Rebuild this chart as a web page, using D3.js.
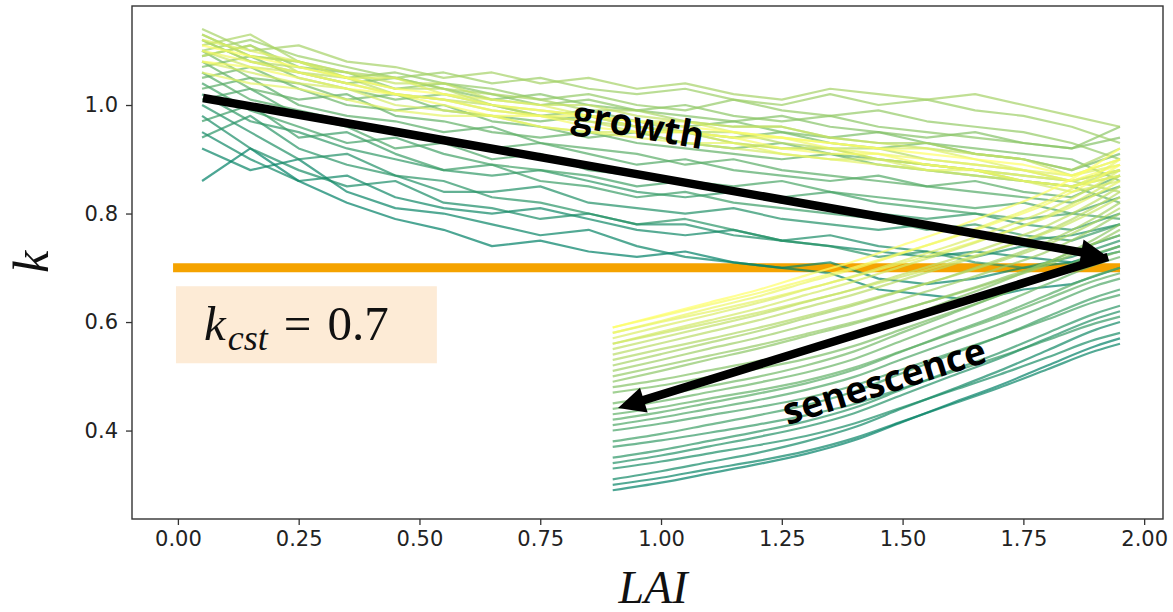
<!DOCTYPE html>
<html><head><meta charset="utf-8">
<script src="https://cdn.jsdelivr.net/npm/d3@7"></script>
<style>body{margin:0;background:#fff} svg{display:block}</style>
</head><body><svg id="c" width="1173" height="612"></svg>
<script>
// ---- data ----
const growthLAI = [0.05,0.15,0.25,0.35,0.45,0.55,0.65,0.75,0.85,0.95,1.05,1.15,1.25,1.35,1.45,1.55,1.65,1.75,1.85,1.95];
const growthK = [
 [0.86,0.92,0.86,0.82,0.79,0.77,0.74,0.75,0.73,0.72,0.73,0.71,0.70,0.69,0.66,0.65,0.64,0.66,0.67,0.70],
 [0.92,0.88,0.90,0.84,0.81,0.80,0.78,0.76,0.77,0.74,0.72,0.71,0.70,0.71,0.68,0.67,0.68,0.70,0.71,0.73],
 [0.95,0.90,0.86,0.87,0.83,0.81,0.80,0.81,0.79,0.77,0.76,0.77,0.75,0.74,0.73,0.72,0.73,0.72,0.71,0.74],
 [0.98,0.92,0.88,0.85,0.86,0.82,0.81,0.79,0.80,0.78,0.78,0.76,0.75,0.76,0.74,0.73,0.72,0.74,0.73,0.76],
 [1.00,0.95,0.90,0.91,0.87,0.84,0.84,0.85,0.82,0.81,0.80,0.81,0.79,0.78,0.77,0.78,0.76,0.75,0.76,0.78],
 [0.94,0.98,0.92,0.89,0.87,0.86,0.83,0.82,0.80,0.78,0.79,0.77,0.75,0.74,0.72,0.73,0.71,0.70,0.72,0.75],
 [1.02,0.97,0.95,0.92,0.90,0.88,0.87,0.88,0.86,0.84,0.83,0.84,0.82,0.81,0.80,0.79,0.80,0.78,0.77,0.80],
 [0.97,1.00,0.94,0.95,0.91,0.88,0.89,0.86,0.85,0.83,0.84,0.82,0.81,0.80,0.79,0.77,0.78,0.76,0.75,0.78],
 [1.04,0.99,0.96,0.93,0.94,0.91,0.89,0.88,0.87,0.85,0.86,0.84,0.83,0.84,0.82,0.81,0.80,0.79,0.80,0.83],
 [1.01,1.03,0.98,0.96,0.92,0.93,0.90,0.91,0.88,0.87,0.86,0.85,0.86,0.84,0.83,0.82,0.81,0.82,0.80,0.79],
 [1.06,1.01,0.99,0.97,0.95,0.94,0.92,0.93,0.91,0.89,0.90,0.88,0.87,0.86,0.87,0.85,0.84,0.83,0.82,0.85],
 [1.03,1.05,1.00,0.98,0.97,0.95,0.96,0.93,0.92,0.91,0.89,0.90,0.88,0.87,0.86,0.85,0.86,0.84,0.83,0.87],
 [1.08,1.03,1.01,1.02,0.98,0.97,0.95,0.94,0.95,0.93,0.92,0.91,0.90,0.91,0.89,0.88,0.87,0.86,0.85,0.82],
 [1.05,1.07,1.03,1.00,0.99,1.00,0.97,0.96,0.94,0.95,0.93,0.92,0.93,0.91,0.90,0.89,0.88,0.87,0.86,0.88],
 [1.10,1.05,1.04,1.01,1.02,0.99,0.98,0.97,0.98,0.96,0.95,0.94,0.95,0.93,0.92,0.93,0.91,0.90,0.88,0.91],
 [1.07,1.09,1.05,1.03,1.01,1.02,1.00,0.98,0.99,0.97,0.96,0.97,0.95,0.94,0.95,0.93,0.92,0.91,0.90,0.86],
 [1.12,1.08,1.06,1.04,1.05,1.03,1.01,1.02,1.00,0.99,0.98,0.97,0.98,0.96,0.95,0.94,0.95,0.93,0.92,0.94],
 [1.09,1.11,1.07,1.06,1.03,1.04,1.02,1.00,1.01,0.99,1.00,0.98,0.97,0.98,0.96,0.95,0.94,0.93,0.92,0.96],
 [1.13,1.09,1.08,1.05,1.06,1.04,1.03,1.01,1.02,1.00,0.99,1.01,0.99,0.98,0.99,0.97,0.96,0.95,0.93,0.90],
 [1.10,1.12,1.09,1.07,1.05,1.06,1.04,1.05,1.03,1.02,1.03,1.01,1.00,1.02,1.00,1.01,0.99,0.98,0.96,0.93],
 [1.14,1.10,1.11,1.08,1.07,1.05,1.06,1.04,1.05,1.03,1.04,1.02,1.01,1.03,1.02,1.01,1.02,1.00,0.98,0.96],
 [1.11,1.13,1.08,1.06,1.05,1.03,1.02,1.01,0.99,0.99,0.97,0.96,0.96,0.94,0.93,0.93,0.91,0.90,0.88,0.92],
 [1.12,1.08,1.07,1.05,1.03,1.03,1.00,0.99,0.98,0.97,0.95,0.95,0.93,0.92,0.92,0.90,0.89,0.88,0.86,0.84],
 [1.09,1.11,1.06,1.05,1.02,1.01,1.00,0.98,0.97,0.96,0.95,0.93,0.92,0.92,0.90,0.89,0.88,0.86,0.85,0.88],
 [1.13,1.09,1.08,1.06,1.04,1.04,1.01,1.00,1.00,0.98,0.97,0.96,0.96,0.94,0.93,0.92,0.91,0.90,0.87,0.90],
 [1.10,1.07,1.06,1.04,1.02,1.01,0.99,0.98,0.97,0.95,0.95,0.93,0.92,0.92,0.90,0.89,0.88,0.86,0.85,0.87],
 [1.08,1.06,1.04,1.03,1.00,0.99,0.98,0.96,0.95,0.95,0.93,0.92,0.91,0.90,0.90,0.88,0.87,0.86,0.84,0.86],
 [1.12,1.10,1.08,1.05,1.05,1.02,1.01,1.00,0.98,0.97,0.97,0.95,0.94,0.93,0.92,0.92,0.90,0.88,0.87,0.89],
 [1.06,1.04,1.03,1.01,0.99,0.98,0.98,0.96,0.95,0.94,0.93,0.93,0.91,0.90,0.89,0.88,0.88,0.86,0.85,0.87],
 [1.10,1.08,1.06,1.04,1.02,1.01,0.99,0.98,0.98,0.96,0.95,0.94,0.94,0.92,0.91,0.90,0.89,0.88,0.86,0.88],
 [1.08,1.07,1.05,1.03,1.02,1.00,0.98,0.98,0.96,0.95,0.95,0.94,0.92,0.91,0.91,0.89,0.88,0.87,0.86,0.89],
 [1.11,1.09,1.07,1.05,1.03,1.02,1.00,0.99,0.98,0.97,0.96,0.95,0.94,0.93,0.92,0.91,0.90,0.89,0.87,0.90]
];
const senLAI = [0.90,1.00,1.10,1.20,1.30,1.40,1.50,1.60,1.70,1.80,1.90,1.95];
const senK = [
 [0.29,0.304,0.321,0.338,0.357,0.382,0.416,0.450,0.483,0.520,0.556,0.57],
 [0.30,0.313,0.329,0.344,0.362,0.386,0.417,0.448,0.479,0.513,0.547,0.56],
 [0.31,0.325,0.342,0.359,0.380,0.406,0.441,0.475,0.510,0.548,0.586,0.60],
 [0.33,0.343,0.358,0.373,0.390,0.413,0.443,0.473,0.503,0.535,0.568,0.58],
 [0.34,0.354,0.371,0.388,0.407,0.432,0.466,0.500,0.533,0.570,0.606,0.62],
 [0.35,0.364,0.381,0.398,0.417,0.442,0.476,0.510,0.543,0.580,0.616,0.63],
 [0.37,0.382,0.396,0.411,0.428,0.449,0.478,0.507,0.536,0.567,0.598,0.61],
 [0.38,0.394,0.411,0.428,0.447,0.472,0.506,0.540,0.573,0.610,0.646,0.66],
 [0.40,0.413,0.428,0.443,0.460,0.483,0.513,0.543,0.573,0.605,0.638,0.65],
 [0.41,0.424,0.440,0.456,0.475,0.499,0.532,0.564,0.596,0.631,0.667,0.68],
 [0.42,0.434,0.451,0.468,0.487,0.512,0.546,0.580,0.613,0.650,0.686,0.70],
 [0.43,0.443,0.459,0.474,0.492,0.516,0.547,0.578,0.609,0.643,0.677,0.69],
 [0.44,0.454,0.471,0.488,0.507,0.532,0.566,0.600,0.633,0.670,0.706,0.72],
 [0.45,0.465,0.482,0.499,0.520,0.546,0.581,0.615,0.650,0.688,0.726,0.74],
 [0.47,0.483,0.499,0.514,0.532,0.556,0.587,0.618,0.649,0.683,0.717,0.73],
 [0.48,0.494,0.511,0.528,0.547,0.572,0.606,0.640,0.673,0.710,0.746,0.76],
 [0.49,0.510,0.531,0.551,0.574,0.597,0.623,0.650,0.679,0.710,0.754,0.78],
 [0.50,0.519,0.538,0.557,0.578,0.600,0.624,0.649,0.676,0.705,0.746,0.77],
 [0.51,0.530,0.551,0.571,0.594,0.617,0.643,0.670,0.699,0.730,0.774,0.80],
 [0.52,0.541,0.562,0.583,0.607,0.631,0.658,0.685,0.715,0.748,0.793,0.82],
 [0.53,0.550,0.569,0.589,0.611,0.634,0.659,0.684,0.712,0.743,0.785,0.81],
 [0.54,0.561,0.582,0.603,0.627,0.651,0.678,0.705,0.735,0.768,0.813,0.84],
 [0.55,0.571,0.592,0.613,0.637,0.661,0.688,0.715,0.745,0.778,0.823,0.85],
 [0.56,0.579,0.598,0.617,0.638,0.660,0.684,0.709,0.736,0.765,0.806,0.83],
 [0.56,0.582,0.603,0.625,0.650,0.675,0.703,0.731,0.762,0.796,0.842,0.87],
 [0.57,0.592,0.613,0.635,0.660,0.685,0.713,0.741,0.772,0.806,0.852,0.88],
 [0.58,0.600,0.619,0.639,0.661,0.684,0.709,0.734,0.762,0.793,0.835,0.86],
 [0.58,0.602,0.625,0.647,0.673,0.698,0.727,0.756,0.788,0.823,0.871,0.90],
 [0.59,0.611,0.632,0.653,0.677,0.701,0.728,0.755,0.785,0.818,0.863,0.89],
 [0.59,0.613,0.636,0.659,0.686,0.712,0.742,0.772,0.805,0.841,0.890,0.92]
];
const kcst = 0.7;
const kcstLAI = [-0.01, 1.95];
const xTicks = [0,0.25,0.5,0.75,1.0,1.25,1.5,1.75,2.0];
const yTicks = [0.4,0.6,0.8,1.0];
const growthArrow = [[0.052,1.013],[1.925,0.72]];
const senArrow = [[1.925,0.72],[0.911,0.4415]];
const kBox = [[-0.004,0.666],[0.536,0.524]];

// ---- chart ----
const svg = d3.select("#c");
const L = 132, R = 1163, T = 6, B = 519;
const x = d3.scaleLinear().domain([-0.095, 2.039]).range([L, R]);
const y = d3.scaleLinear().domain([0.237, 1.1825]).range([B, T]);
const cmap = d3.interpolateRgb("#008066", "#ffff66");

svg.append("rect").attr("width",1173).attr("height",612).attr("fill","#fff");

// orange constant line
svg.append("line")
  .attr("x1", x(kcstLAI[0])).attr("x2", x(kcstLAI[1]))
  .attr("y1", y(kcst)).attr("y2", y(kcst))
  .attr("stroke", "#f5a300").attr("stroke-width", 9);

const gLine = d3.line().x((d,i)=>x(growthLAI[i])).y(d=>y(d));
const sLine = d3.line().x((d,i)=>x(senLAI[i])).y(d=>y(d)).curve(d3.curveMonotoneX);

svg.append("g").selectAll("path").data(growthK).join("path")
  .attr("d", gLine).attr("fill","none")
  .attr("stroke", (d,i)=>cmap(i/(growthK.length-1)))
  .attr("stroke-width", 2.2).attr("stroke-opacity", 0.7)
  .attr("stroke-linejoin","round");

svg.append("g").selectAll("path").data(senK).join("path")
  .attr("d", sLine).attr("fill","none")
  .attr("stroke", (d,i)=>cmap(i/(senK.length-1)))
  .attr("stroke-width", 2.2).attr("stroke-opacity", 0.7);

// frame
svg.append("rect").attr("x",L).attr("y",T).attr("width",R-L).attr("height",B-T)
  .attr("fill","none").attr("stroke","#333").attr("stroke-width",1.4);

// axes
const xAxis = svg.append("g").attr("transform",`translate(0,${B})`)
  .call(d3.axisBottom(x).tickValues(xTicks).tickFormat(d3.format(".2f")).tickSize(6).tickPadding(6).tickSizeOuter(0));
const yAxis = svg.append("g").attr("transform",`translate(${L},0)`)
  .call(d3.axisLeft(y).tickValues(yTicks).tickFormat(d3.format(".1f")).tickSize(6).tickPadding(8).tickSizeOuter(0));
[xAxis,yAxis].forEach(a=>{
  a.select(".domain").remove();
  a.selectAll("line").attr("stroke","#333").attr("stroke-width",1.3);
  a.selectAll("text").attr("font-family","'DejaVu Sans'").attr("font-size",21).attr("fill","#222");
});

// axis labels
svg.append("text").attr("transform","translate(48,262) rotate(-90)")
  .attr("text-anchor","middle").attr("font-family","'Liberation Serif'")
  .attr("font-style","italic").attr("font-size",50).attr("fill","#111").text("k");
svg.append("text").attr("x",653).attr("y",603)
  .attr("text-anchor","middle").attr("font-family","'Liberation Serif'")
  .attr("font-style","italic").attr("font-size",46).attr("fill","#111").text("LAI");

// arrows
function arrow(p0, p1) {
  const a = [x(p0[0]), y(p0[1])], b = [x(p1[0]), y(p1[1])];
  const dx = b[0]-a[0], dy = b[1]-a[1], len = Math.hypot(dx,dy);
  const ux = dx/len, uy = dy/len, hl = 27, hw = 13;
  const base = [b[0]-ux*hl, b[1]-uy*hl];
  svg.append("line").attr("x1",a[0]).attr("y1",a[1]).attr("x2",base[0]+ux*2).attr("y2",base[1]+uy*2)
    .attr("stroke","#000").attr("stroke-width",8.5);
  svg.append("path").attr("d",`M${b[0]},${b[1]}L${base[0]-uy*hw},${base[1]+ux*hw}L${base[0]+uy*hw},${base[1]-ux*hw}Z`)
    .attr("fill","#000");
}
arrow(growthArrow[0], growthArrow[1]);
arrow(senArrow[0], senArrow[1]);

svg.append("text").attr("transform","translate(638,128) rotate(10)")
  .attr("text-anchor","middle").attr("dominant-baseline","middle")
  .attr("font-family","'Open Sans'").attr("font-weight","bold").attr("font-size",37)
  .attr("fill","#000").text("growth");
svg.append("text").attr("transform","translate(885,384) rotate(-17.5)")
  .attr("text-anchor","middle").attr("dominant-baseline","middle")
  .attr("font-family","'Open Sans'").attr("font-weight","bold").attr("font-size",37)
  .attr("fill","#000").text("senescence");

// k_cst box
svg.append("rect").attr("x",x(kBox[0][0])).attr("y",y(kBox[0][1]))
  .attr("width",x(kBox[1][0])-x(kBox[0][0])).attr("height",y(kBox[1][1])-y(kBox[0][1]))
  .attr("fill","#fdebd6");
const kt = svg.append("text").attr("x",204).attr("y",340)
  .attr("font-family","'Liberation Serif'").attr("font-size",49).attr("fill","#111");
kt.append("tspan").attr("font-style","italic").text("k");
kt.append("tspan").attr("font-style","italic").attr("font-size",36).attr("dy",10).attr("dx",2).text("cst");
kt.append("tspan").attr("dy",-10).attr("dx",16).text("=");
kt.append("tspan").attr("dx",16).text("0.7");
</script></body></html>
